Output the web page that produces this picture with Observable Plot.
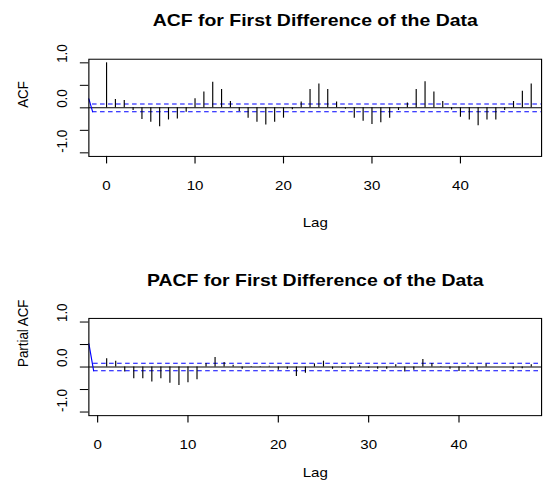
<!DOCTYPE html>
<html>
<head>
<meta charset="utf-8">
<script src="https://cdn.jsdelivr.net/npm/d3@7"></script>
<script src="https://cdn.jsdelivr.net/npm/@observablehq/plot@0.6"></script>
<style>
  html, body { margin: 0; padding: 0; background: white; }
  #outer { width: 549px; height: 486px; overflow: hidden; position: relative; background: white; }
  #inner { width: 480px; height: 480px; transform-origin: 0 0; transform: scale(1.14375, 1.0125); }
  #inner svg { display: block; }
</style>
</head>
<body>
<div id="outer"><div id="inner"></div></div>
<script>
// ---- data ----
const acfLags = d3.range(0, 49);
const acfValues = [1.0, 0.185, 0.163, -0.06, -0.26, -0.32, -0.42, -0.27, -0.25, -0.10,
  0.20, 0.35, 0.57, 0.41, 0.14, -0.08, -0.23, -0.32, -0.38, -0.32,
  -0.23, -0.04, 0.13, 0.41, 0.53, 0.41, 0.13, -0.03, -0.23, -0.30,
  -0.37, -0.33, -0.23, -0.06, 0.11, 0.41, 0.58, 0.35, 0.14, -0.05,
  -0.21, -0.27, -0.40, -0.27, -0.27, -0.06, 0.14, 0.37, 0.53];
const pacfLags = d3.range(1, 49);
const pacfValues = [0.185, 0.13, -0.11, -0.26, -0.26, -0.33, -0.26, -0.36, -0.41, -0.35,
  -0.28, 0.08, 0.21, 0.10, 0.04, -0.05, 0.01, -0.01, 0.02, -0.07,
  -0.05, -0.21, -0.14, 0.07, 0.13, -0.05, -0.03, -0.05, 0.04, -0.03,
  -0.05, -0.05, 0.05, -0.11, -0.07, 0.17, 0.08, 0.01, -0.05, -0.10,
  0.03, -0.07, 0.07, 0.00, 0.00, -0.05, -0.04, 0.05];
const ciBound = 0.085;
const acfDiagX = [-2.0, -1.58];
const acfDiagY = [0.2, -0.085];
const pacfDiagX = [-0.97, -0.44];
const pacfDiagY = [0.52, -0.085];
const xTicks = [0, 10, 20, 30, 40];
const yTicks = [-1, -0.5, 0, 0.5, 1];
const yTickLabels = [-1, 0, 1];
const titles = ["ACF for First Difference of the Data", "PACF for First Difference of the Data"];
const yLabels = ["ACF", "Partial ACF"];
const xLabel = "Lag";

const FONT = "'Liberation Sans', Arial, Helvetica, sans-serif";

function panel({lags, values, diagX, diagY, xDomain, title, yLabel, height, lagDy}) {
  const data = lags.map((l, i) => ({lag: l, value: values[i]}));
  const diag = diagX.map((x, i) => ({x, y: diagY[i]}));
  const top = 58, bottom = 154;
  return Plot.plot({
    width: 480,
    height,
    marginLeft: 77.2,
    marginRight: 7,
    marginTop: top,
    marginBottom: height - bottom,
    x: {domain: xDomain},
    y: {domain: [-1.08, 1.08]},
    style: {fontFamily: FONT, fontSize: "13.2px", color: "black", background: "white", overflow: "visible"},
    marks: [
      Plot.ruleY([0], {stroke: "black", strokeWidth: 1}),
      Plot.ruleY([ciBound, -ciBound], {x1: diagX[1], x2: xDomain[1], stroke: "#0000ff", strokeWidth: 1, strokeDasharray: "4,3"}),
      Plot.line(diag, {x: "x", y: "y", stroke: "#0000ff", strokeWidth: 1}),
      Plot.ruleX(data, {x: "lag", y1: 0, y2: "value", stroke: "black", strokeWidth: 1}),
      Plot.frame({stroke: "black", strokeWidth: 1}),
      Plot.axisX({ticks: xTicks, tickSize: 7.4, tickPadding: 16.6, label: null, fontSize: 13.2, tickFormat: d => String(d)}),
      Plot.axisY({ticks: yTicks, tickSize: 7.4, tickFormat: () => "", label: null}),
      Plot.text(yTickLabels, {y: d => d, text: d => d.toFixed(1), frameAnchor: "left", dx: -23.5, rotate: -90, lineAnchor: "middle", fontSize: 13.2}),
      Plot.text([yLabel], {text: d => d, frameAnchor: "left", dx: -57.2, rotate: -90, lineAnchor: "middle", fontSize: 13.2}),
      Plot.text([xLabel], {text: d => d, frameAnchor: "bottom", dy: lagDy, lineAnchor: "middle", fontSize: 13.2}),
      Plot.text([title], {text: d => d, frameAnchor: "top", dy: -37.8, lineAnchor: "middle", fontWeight: "bold", fontSize: 17})
    ]
  });
}

const inner = document.getElementById("inner");
// box spans 88.3..541 px in the final image; lag 0 at 106.3 (ACF) / 96.3 (PACF)
inner.appendChild(panel({
  lags: acfLags, values: acfValues, diagX: acfDiagX, diagY: acfDiagY,
  xDomain: [-2.0, 49.17], title: titles[0], yLabel: yLabels[0], height: 255.5, lagDy: 65
}));
inner.appendChild(panel({
  lags: pacfLags, values: pacfValues, diagX: pacfDiagX, diagY: pacfDiagY,
  xDomain: [-0.97, 49.14], title: titles[1], yLabel: yLabels[1], height: 224.5, lagDy: 56
}));
</script>
</body>
</html>
